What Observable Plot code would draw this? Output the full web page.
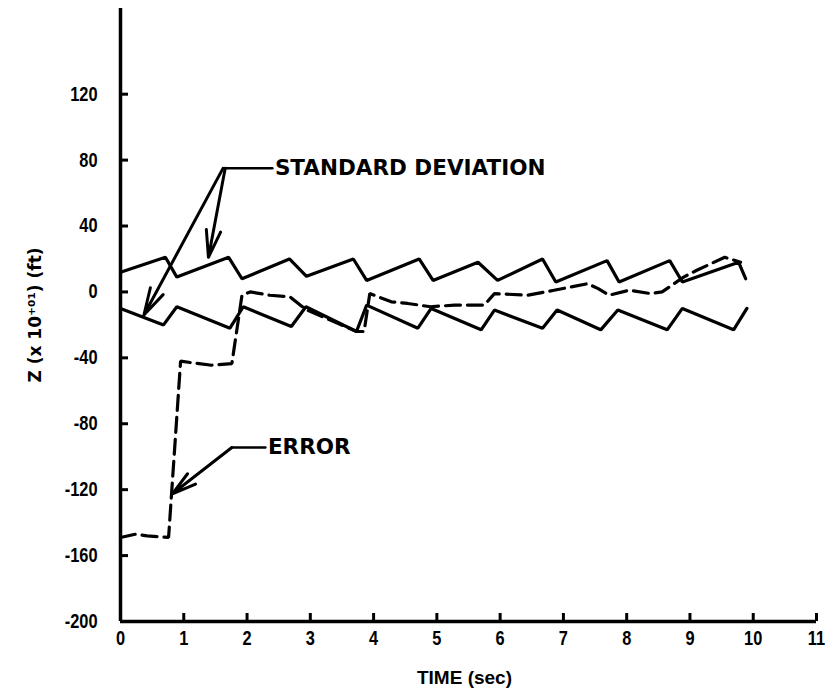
<!DOCTYPE html>
<html>
<head>
<meta charset="utf-8">
<script src="https://cdn.jsdelivr.net/npm/d3@7"></script>
<script src="https://cdn.jsdelivr.net/npm/@observablehq/plot@0.6"></script>
<style>
  html, body { margin: 0; padding: 0; background: #fff; }
</style>
</head>
<body>
<div id="chart"></div>
<script>
// ---- data ----
const upperT = [0, 0.71, 0.89, 1.71, 1.92, 2.67, 2.94, 3.68, 3.89, 4.72, 4.94, 5.65, 5.96, 6.67, 6.88, 7.69, 7.88, 8.68, 8.88, 9.77, 9.88];
const upperV = [12, 21, 9, 21, 8, 20, 9.5, 20, 7, 20, 7, 18, 7, 20, 6, 19, 6, 19, 6, 18, 8];

const lowerT = [0, 0.68, 0.89, 1.73, 1.94, 2.7, 2.93, 3.73, 3.89, 4.7, 4.91, 5.7, 5.91, 6.67, 6.9, 7.59, 7.86, 8.64, 8.88, 9.69, 9.9];
const lowerV = [-10, -20, -9, -22, -9, -21, -9, -24, -8, -22, -10, -23, -11, -22, -11, -23, -11, -23, -10, -23, -10];

const errorT = [0, 0.24, 0.42, 0.76, 0.95, 1.13, 1.44, 1.76, 1.92, 2.05, 2.36, 2.68, 2.84, 2.95, 3.73, 3.85, 3.94, 4.28, 4.54, 4.9, 5.28, 5.75, 5.91, 6.44, 6.85, 7.38, 7.55, 7.72, 8.04, 8.38, 8.56, 8.9, 9.1, 9.55, 9.8];
const errorV = [-149, -147, -148, -149, -42, -43, -44.5, -43.5, -2, 0, -2, -3, -8, -11, -24, -24, -1, -6, -7, -9, -8, -8, -1, -2, 1, 5, 2, -2, 1, -1, 0, 9, 13, 21, 18];

const xTicks = [0, 1, 2, 3, 4, 5, 6, 7, 8, 9, 10, 11];
const yTicks = [-200, -160, -120, -80, -40, 0, 40, 80, 120];

// annotations (data coordinates)
const stdLabel = {text: "STANDARD DEVIATION", x: 2.44, y: 75};
const stdLeader = [{x: 1.655, y: 75}, {x: 2.40, y: 75}];
const stdArrows = [
  {x1: 1.655, y1: 75, x2: 1.39, y2: 21},
  {x1: 1.62, y1: 75, x2: 0.37, y2: -14}
];
const errLabel = {text: "ERROR", x: 2.33, y: -94.4};
const errLeader = [{x: 1.76, y: -94.4}, {x: 2.29, y: -94.4}];
const errArrows = [{x1: 1.76, y1: -94.4, x2: 0.82, y2: -122.5}];

const toPts = (T, V) => T.map((t, i) => ({t, v: V[i]}));
const upper = toPts(upperT, upperV);
const lower = toPts(lowerT, lowerV);
const error = toPts(errorT, errorV);

const tickFont = '"Liberation Sans", sans-serif';
const annFont = '"DejaVu Sans", sans-serif';

const chart = Plot.plot({
  width: 825,
  height: 693,
  marginLeft: 120,
  marginRight: 9,
  marginTop: 8,
  marginBottom: 72,
  style: {fontFamily: tickFont, fontWeight: "bold", color: "#000", background: "#fff"},
  x: {domain: [0, 11]},
  y: {domain: [-200, 172]},
  marks: [
    // axes labels
    Plot.axisY(yTicks, {tickSize: 0, tickPadding: 23, fontSize: 20, fontWeight: "bold", tickFormat: d => String(d), label: null}),
    Plot.axisX(xTicks, {tickSize: 0, tickPadding: 9, fontSize: 20, fontWeight: "bold", tickFormat: d => String(d), label: null}),
    // inward ticks
    Plot.tickX(xTicks.slice(1), {x: d => d, insetTop: 605, strokeWidth: 3}),
    Plot.tickY(yTicks.slice(1), {y: d => d, insetRight: 688, strokeWidth: 3}),
    // axis lines
    Plot.ruleX([0], {strokeWidth: 3.5}),
    Plot.ruleY([-200], {strokeWidth: 3.5}),
    // curves
    Plot.line(upper, {x: "t", y: "v", stroke: "#000", strokeWidth: 3.2, strokeLinejoin: "miter"}),
    Plot.line(lower, {x: "t", y: "v", stroke: "#000", strokeWidth: 3.2, strokeLinejoin: "miter"}),
    Plot.line(error, {x: "t", y: "v", stroke: "#000", strokeWidth: 3.2, strokeDasharray: "15,7", strokeLinejoin: "miter"}),
    // annotations
    Plot.line(stdLeader, {x: "x", y: "y", strokeWidth: 2.5}),
    Plot.arrow(stdArrows, {x1: "x1", y1: "y1", x2: "x2", y2: "y2", strokeWidth: 3, headLength: 14, headAngle: 30}),
    Plot.text([stdLabel], {x: "x", y: "y", text: "text", textAnchor: "start", lineAnchor: "middle", fontSize: 21.5, fontWeight: "bold", fontFamily: annFont}),
    Plot.line(errLeader, {x: "x", y: "y", strokeWidth: 2.5}),
    Plot.arrow(errArrows, {x1: "x1", y1: "y1", x2: "x2", y2: "y2", strokeWidth: 3, headLength: 14, headAngle: 30}),
    Plot.text([errLabel], {x: "x", y: "y", text: "text", textAnchor: "start", lineAnchor: "middle", fontSize: 21.5, fontWeight: "bold", fontFamily: annFont}),
    // axis titles
    Plot.text(["TIME (sec)"], {frameAnchor: "bottom", dy: 56, dx: -4, text: d => d, textAnchor: "middle", fontSize: 19, fontWeight: "bold", fontFamily: '"Liberation Sans", sans-serif', lineAnchor: "middle"}),
    Plot.text(["Z (x 10\u207A\u2070\u00B9) (ft)"], {frameAnchor: "left", dx: -85, rotate: -90, text: d => d, textAnchor: "middle", fontSize: 17, fontWeight: "bold", fontFamily: '"DejaVu Sans", sans-serif', lineAnchor: "middle"})
  ]
});
// condense the tick labels horizontally, like the narrow typeface of the original
d3.select(chart).selectAll('g[aria-label="x-axis tick label"] text, g[aria-label="y-axis tick label"] text')
  .each(function () {
    const t = this.getAttribute("transform") || "";
    this.setAttribute("transform", t + " scale(0.82,1)");
  });
document.getElementById("chart").appendChild(chart);
</script>
</body>
</html>
